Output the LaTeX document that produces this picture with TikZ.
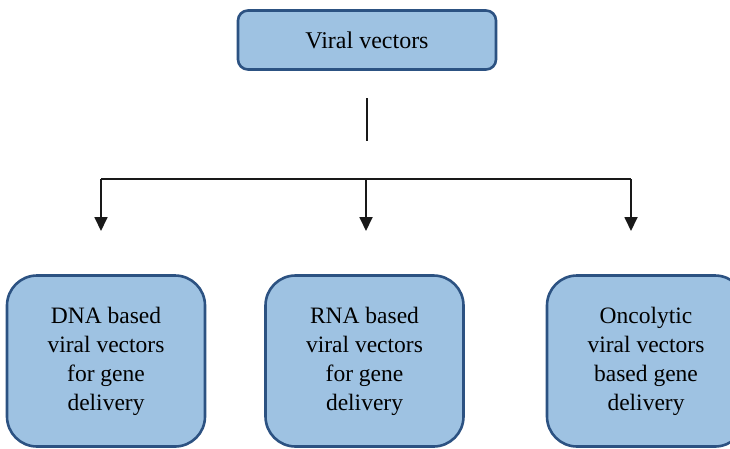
\documentclass[tikz,border=0pt]{standalone}
\usepackage{fontspec}
\setmainfont{Liberation Serif}
\usepackage{tikz}
\usetikzlibrary{arrows.meta,positioning,calc}
\definecolor{cFill}{RGB}{158,194,226}
\definecolor{cEdge}{RGB}{44,82,130}
\tikzset{
	topbox/.style={draw=cEdge, line width=2.6pt, rounded corners=10pt,
		fill=cFill, minimum width=258pt, minimum height=59pt,
		align=center, font=\fontsize{24}{29}\selectfont},
	vbox/.style={draw=cEdge, line width=2.6pt, rounded corners=30pt,
		fill=cFill, minimum width=198pt, minimum height=171pt,
		align=center, font=\fontsize{23.5}{29}\selectfont},
	varr/.style={-{Triangle[length=14pt,width=13pt]}, line width=1.8pt,
		draw=black!90},
	vline/.style={line width=1.8pt, draw=black!90},
}
\begin{document}
\begin{tikzpicture}[x=1pt,y=-1pt]
			\useasboundingbox (0,0) rectangle (730,448);
			\node[topbox] (viral) at (367,40) {Viral vectors};
			\node[vbox] (dna) at (106,361) {DNA based\\viral vectors\\for gene\\delivery};
			\node[vbox] (rna) at (364.5,361) {RNA based\\viral vectors\\for gene\\delivery};
			\node[vbox] (onco) at (646,361) {Oncolytic\\viral vectors\\based gene\\delivery};
			% stub below the top box
			\coordinate (stubA) at (367,98);
			\coordinate (stubB) at (367,141);
			\draw[vline] (stubA) -- (stubB);
			% branch bus
			\coordinate (busL) at (101,179);
			\coordinate (busM) at (366,179);
			\coordinate (busR) at (631,179);
			\coordinate (tipL) at (101,231);
			\coordinate (tipM) at (366,231);
			\coordinate (tipR) at (631,231);
			\draw[vline] (busL) -- (busR);
			\draw[varr] (busL) -- (tipL);
			\draw[varr] (busM) -- (tipM);
			\draw[varr] (busR) -- (tipR);
		\end{tikzpicture}
\end{document}
